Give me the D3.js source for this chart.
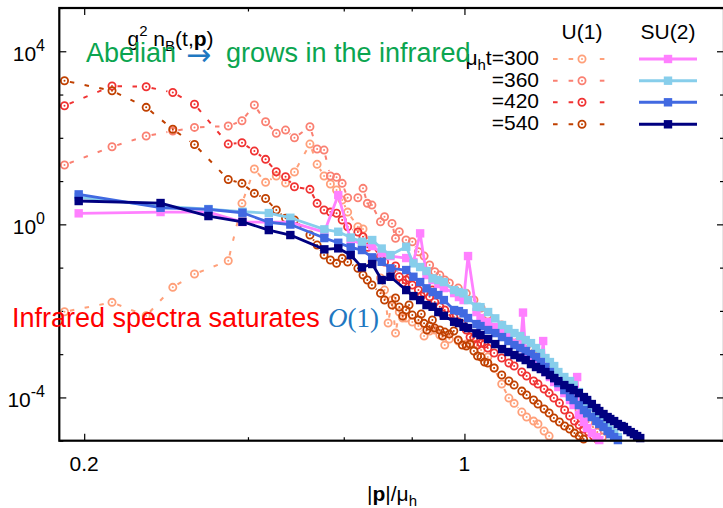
<!DOCTYPE html>
<html lang="en">
<head>
<meta charset="utf-8">
<style>
  body { margin: 0; background: white; }
  svg { background: white; font-family: 'Liberation Sans', Arial, Helvetica, sans-serif; }
  .tick line { stroke: black; stroke-width: 1.2px; }
  .tick text { display: none; }
  .domain { display: none; }
  .lbl { font-size: 21px; fill: black; }
  .note { font-size: 27px; }
</style>
</head>
<body>
<svg width="723" height="508"></svg>
<script src="https://d3js.org/d3.v7.min.js"></script>
<script>
// ---- data: [|p|/mu_h, g^2 n_B] ----
var u1_t300 = [[0.184,0.00955],[0.225,0.01575],[0.260,0.00772],[0.291,0.035],[0.319,0.071],[0.368,0.144],[0.390,3.06],[0.411,19.0],[0.431,9.35],[0.451,13.1],[0.469,9.0],[0.487,16.2],[0.520,71.7],[0.536,24.4],[0.552,13.1],[0.567,8.54],[0.582,6.2],[0.596,3.64],[0.610,1.92],[0.637,0.88],[0.651,0.779],[0.663,0.396],[0.676,0.1345],[0.701,0.0574],[0.713,0.0303],[0.724,0.00524],[0.736,0.0178],[0.747,0.00307],[0.759,0.0094],[0.770,0.00683],[0.781,0.00683],[0.802,0.00552],[0.823,0.00446],[0.843,0.00262],[0.863,0.00342],[0.882,0.00361],[0.901,0.00276],[0.920,0.00162],[0.938,0.00223],[0.974,0.00201],[1.008,0.00171],[1.041,0.00172],[1.073,0.00124],[1.104,0.000857],[1.134,0.000478],[1.171,0.000204],[1.207,9.67e-5],[1.234,7.3e-5],[1.275,4.59e-5],[1.301,3.52e-5],[1.340,2.84e-5],[1.365,2.43e-5],[1.401,1.67e-5],[1.431,1.28e-5]];

var u1_t360 = [[0.184,23.5],[0.225,62.1],[0.260,110],[0.291,143],[0.319,174],[0.368,187],[0.390,248],[0.411,572],[0.431,235],[0.451,127],[0.469,151],[0.487,100],[0.520,180],[0.536,55],[0.552,52.1],[0.567,13.1],[0.582,12.2],[0.596,8.86],[0.610,4.12],[0.637,4.12],[0.651,6.79],[0.663,3.06],[0.676,2.79],[0.701,1.15],[0.713,1.5],[0.736,1.05],[0.747,0.475],[0.759,0.674],[0.781,0.434],[0.802,0.396],[0.823,0.2327],[0.843,0.185],[0.863,0.1147],[0.882,0.0802],[0.901,0.0673],[0.920,0.0516],[0.938,0.044],[0.974,0.0337],[1.008,0.0254],[1.041,0.0178],[1.073,0.01163],[1.104,0.00801],[1.171,0.00471],[1.234,0.00262],[1.301,0.00154],[1.365,0.000904],[1.431,0.000429],[1.495,0.000227],[1.561,0.000114],[1.625,5.11e-5],[1.691,2.7e-5],[1.755,1.58e-5],[1.793,1.21e-5]];

var u1_t420 = [[0.184,551],[0.225,1571],[0.260,1514],[0.291,1112],[0.319,597],[0.368,71.7],[0.390,76.9],[0.411,49.4],[0.431,31.8],[0.451,16.4],[0.469,12.6],[0.487,7.4],[0.520,6.44],[0.536,3.06],[0.552,2.14],[0.567,1.92],[0.582,1.8],[0.596,1.26],[0.610,0.88],[0.637,0.664],[0.651,0.517],[0.663,0.294],[0.676,0.332],[0.701,0.178],[0.713,0.1345],[0.736,0.0879],[0.747,0.1087],[0.759,0.0615],[0.770,0.044],[0.781,0.0516],[0.791,0.0574],[0.802,0.0396],[0.823,0.0303],[0.833,0.022],[0.843,0.0258],[0.863,0.0212],[0.873,0.0303],[0.882,0.016],[0.901,0.01246],[0.911,0.00845],[0.920,0.01046],[0.938,0.00801],[0.956,0.0072],[0.974,0.00552],[0.991,0.00496],[1.008,0.00361],[1.024,0.00248],[1.041,0.00236],[1.057,0.00162],[1.073,0.0018],[1.089,0.00171],[1.104,0.001384],[1.134,0.00106],[1.171,0.000813],[1.207,0.000623],[1.234,0.000531],[1.275,0.000386],[1.301,0.000312],[1.340,0.000239],[1.365,0.000204],[1.401,0.000156],[1.431,0.000126],[1.460,9.67e-5],[1.495,7.41e-5],[1.528,5.11e-5],[1.561,3.71e-5],[1.593,2.84e-5],[1.625,2.3e-5],[1.656,1.86e-5],[1.691,1.58e-5],[1.726,1.28e-5],[1.755,1.09e-5]];

var u1_t540 = [[0.184,2083],[0.225,1223],[0.260,506],[0.291,158],[0.319,69.9],[0.368,10.85],[0.390,8.86],[0.411,5.2],[0.431,3.95],[0.451,2.14],[0.469,1.38],[0.487,1.26],[0.520,0.566],[0.536,0.332],[0.552,0.195],[0.567,0.1496],[0.582,0.1255],[0.596,0.1638],[0.610,0.1345],[0.637,0.0962],[0.651,0.0673],[0.663,0.0516],[0.676,0.0396],[0.701,0.0254],[0.713,0.0178],[0.736,0.01364],[0.747,0.0198],[0.759,0.01227],[0.770,0.0076],[0.781,0.01046],[0.791,0.01364],[0.802,0.00801],[0.823,0.00614],[0.833,0.00845],[0.843,0.00515],[0.853,0.00361],[0.863,0.00446],[0.873,0.00614],[0.882,0.00401],[0.901,0.00361],[0.911,0.00262],[0.920,0.00324],[0.938,0.00291],[0.956,0.00342],[0.974,0.00212],[0.991,0.00162],[1.008,0.00154],[1.024,0.00171],[1.041,0.00118],[1.057,0.000904],[1.073,0.000857],[1.089,0.000657],[1.104,0.000623],[1.134,0.000478],[1.171,0.000329],[1.207,0.000239],[1.234,0.000193],[1.275,0.00014],[1.301,0.000114],[1.340,8.7e-5],[1.365,7.03e-5],[1.401,5.39e-5],[1.431,4.36e-5],[1.460,3.34e-5],[1.495,2.7e-5],[1.528,2.18e-5],[1.561,1.86e-5],[1.593,1.5e-5],[1.625,1.28e-5],[1.656,1.09e-5]];

var su2_t300 = [[0.1954,1.796],[0.2763,1.924],[0.3384,1.924],[0.3908,1.13],[0.4369,1.13],[0.4786,1.13],[0.5527,0.664],[0.5862,4.75],[0.6179,0.434],[0.6481,0.3505],[0.6769,0.315],[0.7045,0.217],[0.7311,0.185],[0.7816,0.1664],[0.8057,0.1345],[0.829,0.619],[0.8517,0.0673],[0.8739,0.0516],[0.8954,0.0417],[0.9165,0.0337],[0.9573,0.0258],[0.977,0.0209],[0.9963,0.0178],[1.0153,0.185],[1.0523,0.0094],[1.0703,0.00683],[1.1054,0.00552],[1.1394,0.00423],[1.1724,0.00324],[1.2045,0.00248],[1.2358,0.0018],[1.2663,0.001384],[1.2813,0.00915],[1.2961,0.00112],[1.3253,0.000857],[1.3537,0.000657],[1.3817,0.000504],[1.3955,0.00201],[1.409,0.000386],[1.4359,0.000296],[1.4622,0.000227],[1.4881,0.000174],[1.5261,0.000126],[1.5632,8.7e-5],[1.5874,6.67e-5],[1.6113,0.000296],[1.6231,3.92e-5],[1.658,2.7e-5],[1.6809,1.96e-5],[1.7146,1.5e-5],[1.7477,1.21e-5],[1.7694,1.035e-5]];

var su2_t360 = [[0.1954,4.28],[0.2763,2.65],[0.3384,2.26],[0.3908,1.955],[0.4369,1.825],[0.4786,1.42],[0.5527,0.766],[0.5862,0.674],[0.6179,0.4954],[0.6481,0.396],[0.6769,0.434],[0.7045,0.276],[0.7311,0.195],[0.7816,0.3036],[0.8057,0.1255],[0.829,0.1031],[0.8517,0.0833],[0.8739,0.0565],[0.8954,0.0516],[0.9165,0.0464],[0.9573,0.0303],[0.977,0.0272],[0.9963,0.0254],[1.0153,0.0178],[1.0523,0.01246],[1.0703,0.0122],[1.1054,0.0094],[1.1394,0.00672],[1.1724,0.00471],[1.2045,0.0038],[1.2358,0.00307],[1.2663,0.00262],[1.2961,0.00212],[1.3253,0.0018],[1.3537,0.001384],[1.3817,0.00106],[1.409,0.000813],[1.4359,0.000657],[1.4622,0.000531],[1.4881,0.000386],[1.5261,0.000296],[1.5632,0.000239],[1.5874,0.000193],[1.6231,0.000133],[1.658,9.67e-5],[1.6809,7.82e-5],[1.7146,5.99e-5],[1.7477,4.59e-5],[1.7694,3.71e-5],[1.8015,2.84e-5],[1.833,2.18e-5],[1.8537,1.76e-5],[1.8844,1.5e-5],[1.9145,1.21e-5]];

var su2_t420 = [[0.1954,4.93],[0.2763,2.42],[0.3384,2.22],[0.3908,1.854],[0.4369,1.118],[0.4786,0.989],[0.5527,0.482],[0.5862,0.3757],[0.6179,0.294],[0.6481,0.2547],[0.6769,0.1727],[0.7045,0.1367],[0.7311,0.0962],[0.7816,0.0879],[0.8057,0.0615],[0.829,0.0464],[0.8517,0.0332],[0.8739,0.0272],[0.8954,0.0232],[0.9165,0.0178],[0.9573,0.01046],[0.977,0.00991],[0.9963,0.00877],[1.0153,0.00683],[1.0523,0.00496],[1.0703,0.00446],[1.1054,0.00361],[1.1394,0.00307],[1.1724,0.00248],[1.2045,0.00201],[1.2358,0.00162],[1.2663,0.001384],[1.2961,0.00118],[1.3253,0.001006],[1.3537,0.000857],[1.3817,0.000657],[1.409,0.000504],[1.4359,0.000386],[1.4622,0.00028],[1.4881,0.000215],[1.5261,0.000148],[1.5632,0.0001037],[1.5874,8.7e-5],[1.6231,6.67e-5],[1.658,5.11e-5],[1.6809,4.29e-5],[1.7146,3.52e-5],[1.7477,2.84e-5],[1.7694,2.43e-5],[1.8015,2.07e-5],[1.833,1.67e-5],[1.8537,1.42e-5],[1.8844,1.21e-5],[1.9145,1.035e-5]];

var su2_t540 = [[0.1954,3.46],[0.2763,3.11],[0.3384,1.555],[0.3908,1.148],[0.4369,0.738],[0.4786,0.566],[0.5527,0.2644],[0.5862,0.279],[0.6179,0.195],[0.6481,0.1015],[0.6769,0.121],[0.7045,0.0516],[0.7311,0.0615],[0.7816,0.0303],[0.8057,0.022],[0.829,0.0178],[0.8517,0.01364],[0.8739,0.01246],[0.8954,0.0094],[0.9165,0.00772],[0.9573,0.00561],[0.977,0.00524],[0.9963,0.0043],[1.0153,0.00401],[1.0523,0.00303],[1.0703,0.00276],[1.1054,0.00223],[1.1394,0.00171],[1.1724,0.00131],[1.2045,0.00112],[1.2358,0.000954],[1.2663,0.000835],[1.2961,0.000731],[1.3253,0.00059],[1.3537,0.000504],[1.3817,0.000453],[1.409,0.000386],[1.4359,0.000329],[1.4622,0.00028],[1.4881,0.000239],[1.5261,0.000193],[1.5632,0.000165],[1.5874,0.000148],[1.6231,0.000126],[1.658,0.000102],[1.6809,8.7e-5],[1.7146,7.03e-5],[1.7477,5.68e-5],[1.7694,4.84e-5],[1.8015,4.13e-5],[1.833,3.52e-5],[1.8537,3.17e-5],[1.8844,2.84e-5],[1.9145,2.43e-5],[1.9442,2.18e-5],[1.9637,2.07e-5],[1.9927,1.76e-5],[2.0212,1.58e-5],[2.0493,1.42e-5],[2.0771,1.28e-5],[2.1045,1.15e-5]];

var timeLabels = ["t=300", "=360", "=420", "=540"];
var u1Colors = ["#ffa07a", "#fa8072", "#f03232", "#c04000"];
var su2Colors = ["#ff80ff", "#87ceeb", "#4169e1", "#000080"];
var xTickLabels = [0.2, 1];
var xMinorTicks = [0.4, 0.6, 0.8];
var yTickExps = [4, 0, -4];

// ---- frame ----
var svg = d3.select("svg");
var L = 59.3, R = 724, T = 8, B = 440.7;
var x = d3.scaleLog().domain([0.18, 3]).range([L, R]);
var y = d3.scaleLog().domain([1e-5, 1e5]).range([B, T]);

svg.append("clipPath").attr("id", "clip")
  .append("rect").attr("x", L).attr("y", T).attr("width", R - L).attr("height", B - T);

var yMinor = d3.range(-5, 6).map(e => Math.pow(10, e)).filter(v => yTickExps.indexOf(Math.round(Math.log10(v))) < 0);
var yMajor = yTickExps.map(e => Math.pow(10, e));

function ticks(axis, vals, size, tx, ty) {
  svg.append("g").attr("transform", "translate(" + tx + "," + ty + ")")
    .call(axis.tickValues(vals).tickSize(size).tickFormat(""));
}
ticks(d3.axisTop(x), xTickLabels, 7, 0, B);
ticks(d3.axisTop(x), xMinorTicks, 3.5, 0, B);
ticks(d3.axisBottom(x), xTickLabels, 7, 0, T);
ticks(d3.axisBottom(x), xMinorTicks, 3.5, 0, T);
ticks(d3.axisRight(y), yMajor, 7, L, 0);
ticks(d3.axisRight(y), yMinor, 4, L, 0);
ticks(d3.axisLeft(y), yMajor, 7, R, 0);
ticks(d3.axisLeft(y), yMinor, 4, R, 0);

// tick labels
svg.selectAll("text.xl").data(xTickLabels).join("text")
  .attr("class", "lbl").attr("text-anchor", "middle")
  .attr("x", d => x(d)).attr("y", B + 30).text(d => d);

yTickExps.forEach(function(e) {
  var t = svg.append("text").attr("class", "lbl").attr("text-anchor", "end")
    .attr("x", 45).attr("y", y(Math.pow(10, e)) + 9.5);
  t.append("tspan").text("10");
  t.append("tspan").attr("font-size", 16).attr("dy", -10).text(e);
});

// ---- series ----
function drawU1(data, color) {
  var g = svg.append("g");
  var pts = data.map(d => [x(d[0]), y(d[1])]);
  var gap = 5.5;
  for (var i = 0; i < pts.length - 1; i++) {
    var a = pts[i], b = pts[i + 1];
    var dx = b[0] - a[0], dy = b[1] - a[1], len = Math.hypot(dx, dy);
    if (len <= 2 * gap) continue;
    var ux = dx / len, uy = dy / len;
    g.append("line")
      .attr("x1", a[0] + ux * gap).attr("y1", a[1] + uy * gap)
      .attr("x2", b[0] - ux * gap).attr("y2", b[1] - uy * gap)
      .attr("stroke", color).attr("stroke-width", 2)
      .attr("stroke-dasharray", "4.5,10.5").attr("clip-path", "url(#clip)");
  }
  g.selectAll("circle.o").data(pts).join("circle").attr("class", "o")
    .attr("cx", d => d[0]).attr("cy", d => d[1]).attr("r", 3.6)
    .attr("fill", "none").attr("stroke", color).attr("stroke-width", 1.8);
  g.selectAll("circle.c").data(pts).join("circle").attr("class", "c")
    .attr("cx", d => d[0]).attr("cy", d => d[1]).attr("r", 1)
    .attr("fill", color);
}

function drawSU2(data, color) {
  var g = svg.append("g");
  g.append("path").datum(data)
    .attr("d", d3.line().x(d => x(d[0])).y(d => y(d[1])))
    .attr("fill", "none").attr("stroke", color).attr("stroke-width", 2.8)
    .attr("stroke-linejoin", "round").attr("clip-path", "url(#clip)");
  g.selectAll("rect").data(data).join("rect")
    .attr("x", d => x(d[0]) - 4.2).attr("y", d => y(d[1]) - 4.2)
    .attr("width", 8.4).attr("height", 8.4).attr("fill", color);
}

[u1_t300, u1_t360, u1_t420, u1_t540].forEach((s, i) => drawU1(s, u1Colors[i]));
[su2_t300, su2_t360, su2_t420, su2_t540].forEach((s, i) => drawSU2(s, su2Colors[i]));

// border
svg.append("rect").attr("x", L).attr("y", T).attr("width", R - L).attr("height", B - T)
  .attr("fill", "none").attr("stroke", "black").attr("stroke-width", 2.2);

// ---- legend ----
svg.append("text").attr("class", "lbl").attr("text-anchor", "middle").attr("x", 582).attr("y", 39).text("U(1)");
svg.append("text").attr("class", "lbl").attr("text-anchor", "middle").attr("x", 668).attr("y", 39).text("SU(2)");
var rowY = [59, 80.7, 102.3, 124.3];
timeLabels.forEach(function(lab, i) {
  var ry = rowY[i];
  var t = svg.append("text").attr("class", "lbl").attr("text-anchor", "end").attr("x", 539).attr("y", ry + 6);
  if (i === 0) {
    t.append("tspan").text("μ");
    t.append("tspan").attr("font-size", 15).attr("dy", 5).text("h");
    t.append("tspan").attr("dy", -5).text(lab);
  } else {
    t.text(lab);
  }
  svg.append("line").attr("x1", 553).attr("x2", 577).attr("y1", ry).attr("y2", ry)
    .attr("stroke", u1Colors[i]).attr("stroke-width", 2).attr("stroke-dasharray", "4.6,11");
  svg.append("line").attr("x1", 599.8).attr("x2", 604.4).attr("y1", ry).attr("y2", ry)
    .attr("stroke", u1Colors[i]).attr("stroke-width", 2);
  svg.append("circle").attr("cx", 582).attr("cy", ry).attr("r", 3.6)
    .attr("fill", "none").attr("stroke", u1Colors[i]).attr("stroke-width", 1.8);
  svg.append("circle").attr("cx", 582).attr("cy", ry).attr("r", 1).attr("fill", u1Colors[i]);
  svg.append("line").attr("x1", 639).attr("x2", 697).attr("y1", ry).attr("y2", ry)
    .attr("stroke", su2Colors[i]).attr("stroke-width", 3);
  svg.append("rect").attr("x", 668 - 4.2).attr("y", ry - 4.2).attr("width", 8.4).attr("height", 8.4)
    .attr("fill", su2Colors[i]);
});

// ---- axis titles ----
var xt = svg.append("text").attr("class", "lbl").attr("x", 367).attr("y", 501);
xt.append("tspan").text("|");
xt.append("tspan").attr("font-weight", "bold").text("p");
xt.append("tspan").text("|/μ");
xt.append("tspan").attr("font-size", 15).attr("dy", 5).text("h");

var yt = svg.append("text").attr("class", "lbl").attr("x", 127.5).attr("y", 46);
yt.append("tspan").text("g");
yt.append("tspan").attr("font-size", 15).attr("dy", -10).text("2");
yt.append("tspan").attr("dy", 10).text(" n");
yt.append("tspan").attr("font-size", 15).attr("dy", 5).text("B");
yt.append("tspan").attr("dy", -5).text("(t,");
yt.append("tspan").attr("font-weight", "bold").text("p");
yt.append("tspan").text(")");

// ---- annotations ----
svg.append("text").attr("class", "note").attr("fill", "#0ba550").attr("x", 86).attr("y", 62).text("Abelian");
svg.append("text").attr("fill", "#1f78c1").attr("font-size", 30)
  .attr("font-family", "'DejaVu Sans', sans-serif").attr("x", 186).attr("y", 65).text("→");
svg.append("text").attr("class", "note").attr("fill", "#0ba550").attr("x", 226).attr("y", 62).text("grows in the infrared");

svg.append("text").attr("class", "note").attr("font-size", 26).attr("fill", "#ff0000")
  .attr("x", 12).attr("y", 327).text("Infrared spectra saturates");
var o1 = svg.append("text").attr("fill", "#1f78c1").attr("font-size", 27)
  .attr("font-family", "'Liberation Serif', 'DejaVu Serif', serif").attr("x", 328).attr("y", 327);
o1.append("tspan").attr("font-style", "italic").text("O");
o1.append("tspan").text("(1)");
</script>
</body>
</html>
